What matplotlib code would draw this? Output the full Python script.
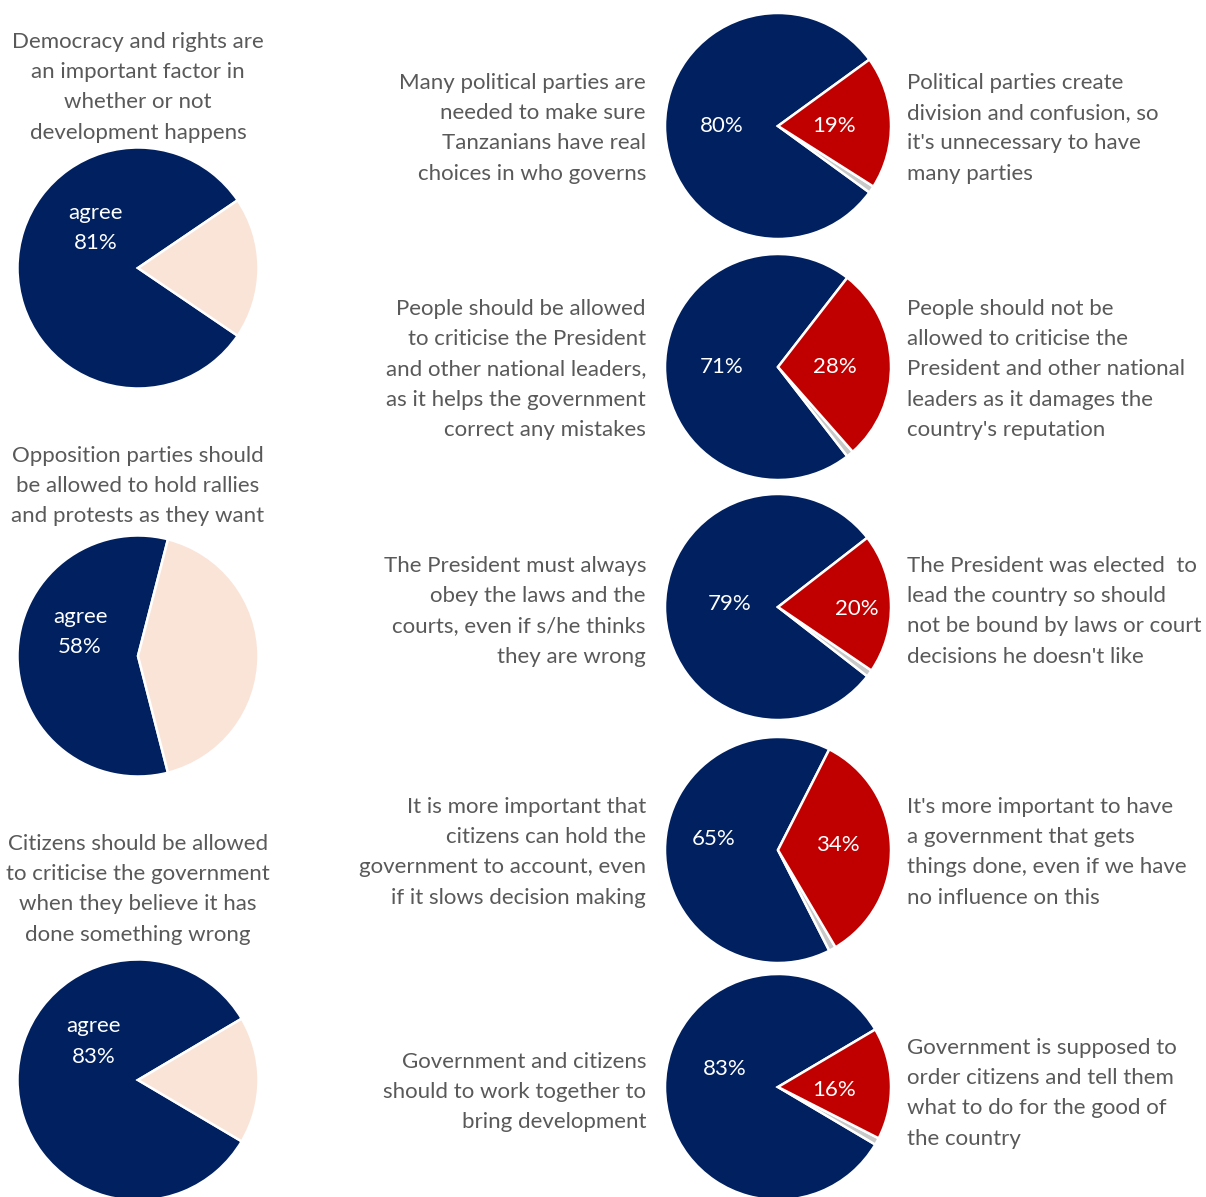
import matplotlib
matplotlib.use("Agg")
import matplotlib.pyplot as plt

# left column: agree share vs the rest
left_titles = [
    "Democracy and rights are\nan important factor in\nwhether or not\ndevelopment happens",
    "Opposition parties should\nbe allowed to hold rallies\nand protests as they want",
    "Citizens should be allowed\nto criticise the government\nwhen they believe it has\ndone something wrong",
]
left_agree = [81, 58, 83]

# right column: statement A vs statement B (rest = other)
stmt_a = [
    "Many political parties are\nneeded to make sure\nTanzanians have real\nchoices in who governs",
    "People should be allowed\nto criticise the President\nand other national leaders,\nas it helps the government\ncorrect any mistakes",
    "The President must always\nobey the laws and the\ncourts, even if s/he thinks\nthey are wrong",
    "It is more important that\ncitizens can hold the\ngovernment to account, even\nif it slows decision making",
    "Government and citizens\nshould to work together to\nbring development",
]
stmt_b = [
    "Political parties create\ndivision and confusion, so\nit's unnecessary to have\nmany parties",
    "People should not be\nallowed to criticise the\nPresident and other national\nleaders as it damages the\ncountry's reputation",
    "The President was elected  to\nlead the country so should\nnot be bound by laws or court\ndecisions he doesn't like",
    "It's more important to have\na government that gets\nthings done, even if we have\nno influence on this",
    "Government is supposed to\norder citizens and tell them\nwhat to do for the good of\nthe country",
]
pct_a = [80, 71, 79, 65, 83]
pct_b = [19, 28, 20, 34, 16]

NAVY = "#002060"
RED = "#C00000"
PEACH = "#FAE4D8"
GREY = "#C8C8C8"
TXT = "#595959"
FONT = "Lato"
FS = 16
LS = 1.64

W, H = 1206, 1197
fig = plt.figure(figsize=(W / 100, H / 100), dpi=100)
ax = fig.add_axes([0, 0, 1, 1])


def Y(y):
    return H - y


wprops = dict(edgecolor="white", linewidth=1.8)

# left pies
left_cy = [268, 656, 1080]
left_ty = [41, 455, 843]
left_lab = [(-0.35, 0.33), (-0.48, 0.2), (-0.37, 0.32)]
for i, v in enumerate(left_agree):
    cx, cy, r = 138, left_cy[i], 120.5
    ax.pie([v, 100 - v], colors=[NAVY, PEACH], startangle=180 - 1.8 * v,
           counterclock=True, center=(cx, Y(cy)), radius=r,
           wedgeprops=wprops, frame=True)
    lx, ly = left_lab[i]
    ax.text(cx + lx * r, Y(cy) + ly * r, f"agree\n{v}%", color="white",
            ha="center", va="center", fontsize=FS, family=FONT,
            linespacing=LS)
    ax.text(138, Y(left_ty[i] - 9), left_titles[i], color=TXT, ha="center",
            va="top", fontsize=FS, family=FONT, linespacing=LS)

# right pies
right_cy = [126, 367, 607, 850, 1087]
right_ty = [82, 308, 565, 806, 1047]
right_ty_a = [82, 308, 565, 806, 1061]
lab_a = [(-0.5, 0.0), (-0.5, 0.0), (-0.43, 0.03), (-0.57, 0.1), (-0.47, 0.16)]
lab_b = [(0.5, 0.0), (0.5, 0.0), (0.7, -0.02), (0.53, 0.04), (0.5, -0.03)]
for i in range(5):
    cx, cy, r = 778, right_cy[i], 113
    a, b = pct_a[i], pct_b[i]
    other = 100 - a - b
    ax.pie([a, other, b], colors=[NAVY, GREY, RED], startangle=180 - 1.8 * a,
           counterclock=True, center=(cx, Y(cy)), radius=r,
           wedgeprops=wprops, frame=True)
    ax.text(cx + lab_a[i][0] * r, Y(cy) + lab_a[i][1] * r, f"{a}%",
            color="white", ha="center", va="center", fontsize=FS, family=FONT)
    ax.text(cx + lab_b[i][0] * r, Y(cy) + lab_b[i][1] * r, f"{b}%",
            color="white", ha="center", va="center", fontsize=FS, family=FONT)
    ax.text(646, Y(right_ty_a[i] - 9), stmt_a[i], color=TXT, ha="right",
            va="top", fontsize=FS, family=FONT, linespacing=LS,
            multialignment="right")
    ax.text(907, Y(right_ty[i] - 9), stmt_b[i], color=TXT, ha="left",
            va="top", fontsize=FS, family=FONT, linespacing=LS)

ax.set_xlim(0, W)
ax.set_ylim(0, H)
ax.set_aspect("equal")
ax.axis("off")

fig.savefig("out.png", dpi=100, facecolor="white")
